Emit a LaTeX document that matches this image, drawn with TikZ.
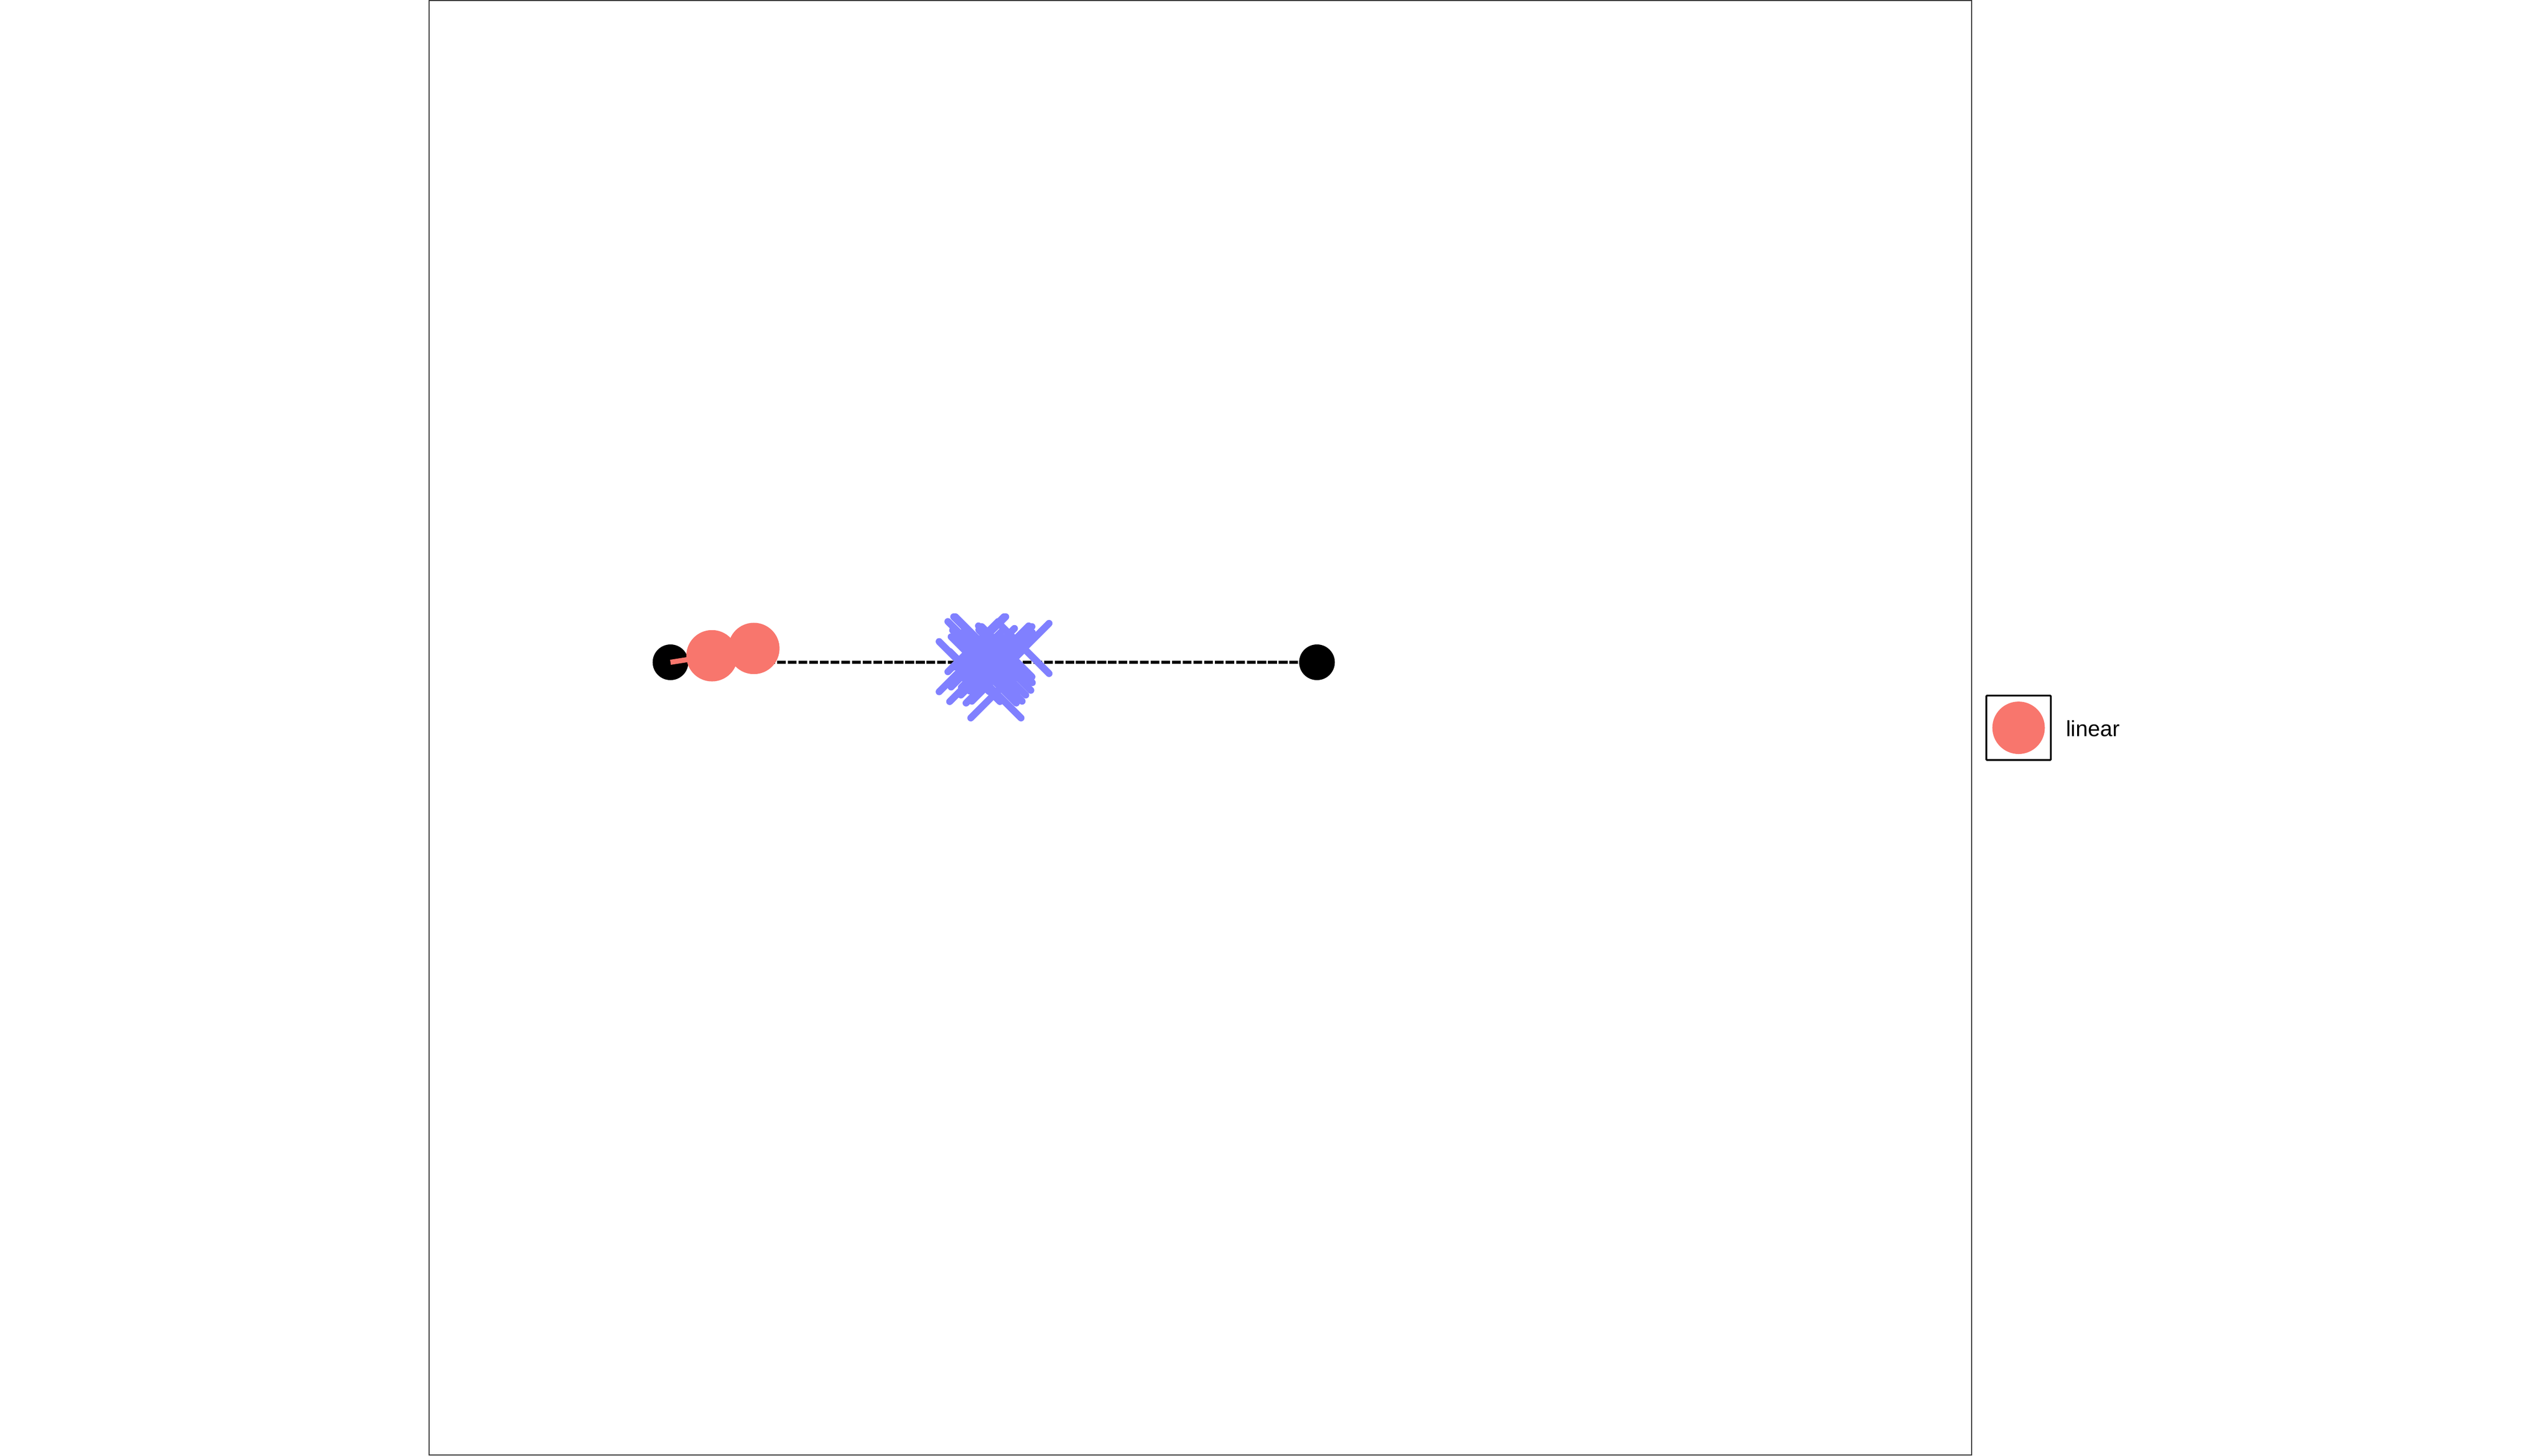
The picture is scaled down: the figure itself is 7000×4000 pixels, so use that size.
\documentclass[tikz,border=0pt]{standalone}
\usepackage{fontspec}
\setmainfont{Liberation Sans}
\definecolor{redpt}{HTML}{F8766D}
\definecolor{bluept}{HTML}{8080FF}
\definecolor{framegray}{HTML}{333333}
\begin{document}
\begin{tikzpicture}[x=0.01cm,y=-0.01cm,
  blackdot/.style={circle,fill=black,inner sep=0pt,outer sep=0pt,minimum size=0.98cm},
  reddot/.style={circle,fill=redpt,inner sep=0pt,outer sep=0pt,minimum size=1.41cm},
  xmark/.style={draw=bluept,line width=0.19cm,line cap=round},
  panel/.style={draw=framegray,line width=0.028cm},
  dashline/.style={draw=black,line width=0.08cm,dash pattern=on 0.24cm off 0.053cm},
  redline/.style={draw=redpt,line width=0.14cm},
  keybox/.style={draw=black,line width=0.05cm,rounded corners=0.02cm,minimum size=1.77cm,inner sep=0pt},
  keylabel/.style={anchor=base west,inner sep=0pt,font=\fontsize{17.2}{20}\selectfont}]
\useasboundingbox (0,0) rectangle (7000,4000);
\fill[white] (0,0) rectangle (7000,4000);
% panel border
\draw[panel] (1179.3,1.4) rectangle (5416.5,3998.5);
% positions
\coordinate (pL) at (1842,1820);
\coordinate (pR) at (3618,1820);
\coordinate (p1) at (1956,1802);
\coordinate (p2) at (2071,1782);
% dashed connector
\draw[dashline] (pL) -- (pR);
% black end points
\node[blackdot] (bl) at (pL) {};
\node[blackdot] (br) at (pR) {};
% red path and points
\draw[redline] (bl.center) -- (p1) -- (p2);
\node[reddot] (r1) at (p1) {};
\node[reddot] (r2) at (p2) {};
% blue crosses
\foreach \cx/\cy in {2694/1764,2736/1904,2813/1782,2649/1832,2678/1859,2723/1863,2757/1789,2758/1800,2718/1796,2682/1819,2686/1801,2673/1777,2763/1828,2739/1858,2749/1841,2709/1841,2766/1791,2689/1764,2710/1820,2733/1830,2767/1807}
  \draw[xmark] ({\cx-69},{\cy-69}) -- ({\cx+69},{\cy+69}) ({\cx-69},{\cy+69}) -- ({\cx+69},{\cy-69});
% legend
\node[keybox] (key) at (5545.5,2000) {};
\node[circle,fill=redpt,inner sep=0pt,minimum size=1.44cm] (keydot) at (key.center) {};
\node[keylabel] (lab) at (5675,2023) {linear};
\end{tikzpicture}
\end{document}
